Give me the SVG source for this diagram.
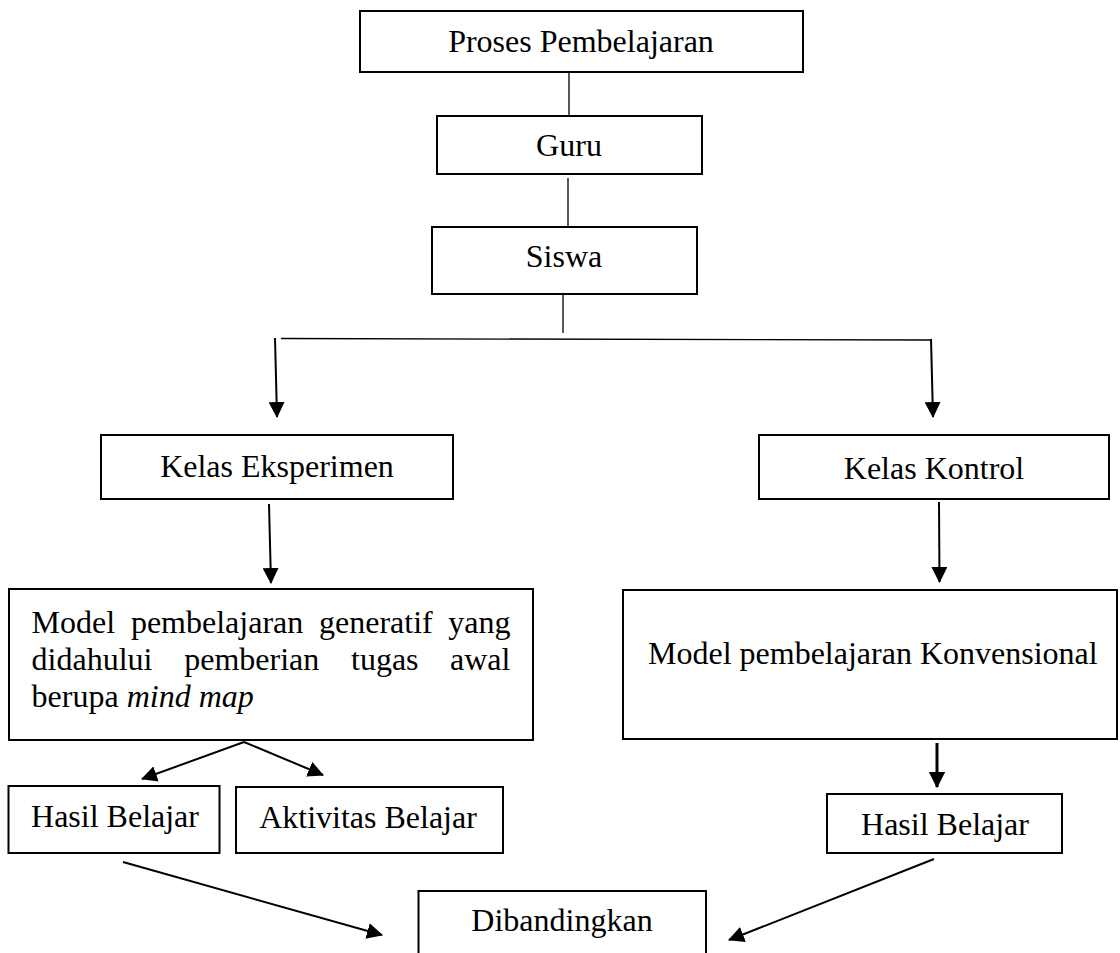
<svg xmlns="http://www.w3.org/2000/svg" width="1120" height="953" viewBox="0 0 1120 953">
<style>
.box{fill:#fff;stroke:#000;stroke-width:2}
.t{font-family:"Liberation Serif","Times New Roman",serif;font-size:32px;fill:#000}
.c{text-anchor:middle}
.thin{stroke:#000;stroke-width:1.3;fill:none}
.ar{stroke:#000;stroke-width:2;fill:none;marker-end:url(#ah)}
.ar3{stroke:#000;stroke-width:3;fill:none;marker-end:url(#ah2)}
</style>
<defs>
<marker id="ah" markerWidth="8" markerHeight="8" refX="7.5" refY="4" orient="auto" markerUnits="strokeWidth">
<path d="M0,0 L8,4 L0,8 Z" fill="#000"/>
</marker>
<marker id="ah2" markerWidth="5.4" markerHeight="5.4" refX="5" refY="2.7" orient="auto" markerUnits="strokeWidth">
<path d="M0,0 L5.4,2.7 L0,5.4 Z" fill="#000"/>
</marker>
</defs>
<g id="connectors">
<line class="thin" x1="569" y1="72" x2="569" y2="116"/>
<line class="thin" x1="568" y1="178" x2="568" y2="227"/>
<line class="thin" x1="563" y1="292" x2="563" y2="333"/>
<line class="thin" x1="281" y1="338.5" x2="931" y2="340"/>
<line class="ar" x1="275" y1="338" x2="277" y2="417"/>
<line class="ar" x1="931" y1="339" x2="933" y2="417"/>
<line class="ar" x1="269" y1="504" x2="271" y2="583"/>
<line class="ar" x1="939" y1="502" x2="939.5" y2="582"/>
<line class="ar" x1="244" y1="742" x2="142" y2="779"/>
<line class="ar" x1="244" y1="742" x2="323" y2="775"/>
<line class="ar3" x1="937" y1="743" x2="937" y2="787"/>
<line class="ar" x1="123" y1="862" x2="382" y2="935"/>
<line class="ar" x1="934" y1="859" x2="729" y2="940"/>
</g>
<g id="proses">
<rect class="box" x="360" y="11" width="443" height="61"/>
<text class="t c" x="581" y="52">Proses Pembelajaran</text>
</g>
<g id="guru">
<rect class="box" x="437" y="116" width="265" height="58"/>
<text class="t c" x="569" y="156">Guru</text>
</g>
<g id="siswa">
<rect class="box" x="432" y="227" width="265" height="67"/>
<text class="t c" x="564" y="267">Siswa</text>
</g>
<g id="kelas-eksperimen">
<rect class="box" x="101" y="435" width="352" height="64"/>
<text class="t c" x="277" y="477">Kelas Eksperimen</text>
</g>
<g id="kelas-kontrol">
<rect class="box" x="759" y="435" width="350" height="64"/>
<text class="t c" x="934" y="479">Kelas Kontrol</text>
</g>
<g id="model-generatif">
<rect class="box" x="9" y="589" width="524" height="151"/>
<text class="t" y="633"><tspan x="31.6">Model</tspan><tspan x="130.9">pembelajaran</tspan><tspan x="319">generatif</tspan><tspan x="448.3">yang</tspan></text>
<text class="t" y="669.5"><tspan x="31.6">didahului</tspan><tspan x="184.2">pemberian</tspan><tspan x="351">tugas</tspan><tspan x="450">awal</tspan></text>
<text class="t" x="31.6" y="706.5">berupa <tspan font-style="italic">mind map</tspan></text>
</g>
<g id="model-konvensional">
<rect class="box" x="623" y="590" width="494" height="149"/>
<text class="t" x="648" y="664">Model pembelajaran Konvensional</text>
</g>
<g id="hasil-eksperimen">
<rect class="box" x="8.5" y="786" width="211" height="67"/>
<text class="t c" x="115" y="827">Hasil Belajar</text>
</g>
<g id="aktivitas">
<rect class="box" x="236" y="787" width="267" height="66"/>
<text class="t c" x="368" y="828">Aktivitas Belajar</text>
</g>
<g id="hasil-kontrol">
<rect class="box" x="827" y="794" width="235" height="59"/>
<text class="t c" x="945" y="834.5">Hasil Belajar</text>
</g>
<g id="dibandingkan">
<rect class="box" x="418.5" y="891" width="287.5" height="80"/>
<text class="t c" x="562" y="931">Dibandingkan</text>
</g>
</svg>
